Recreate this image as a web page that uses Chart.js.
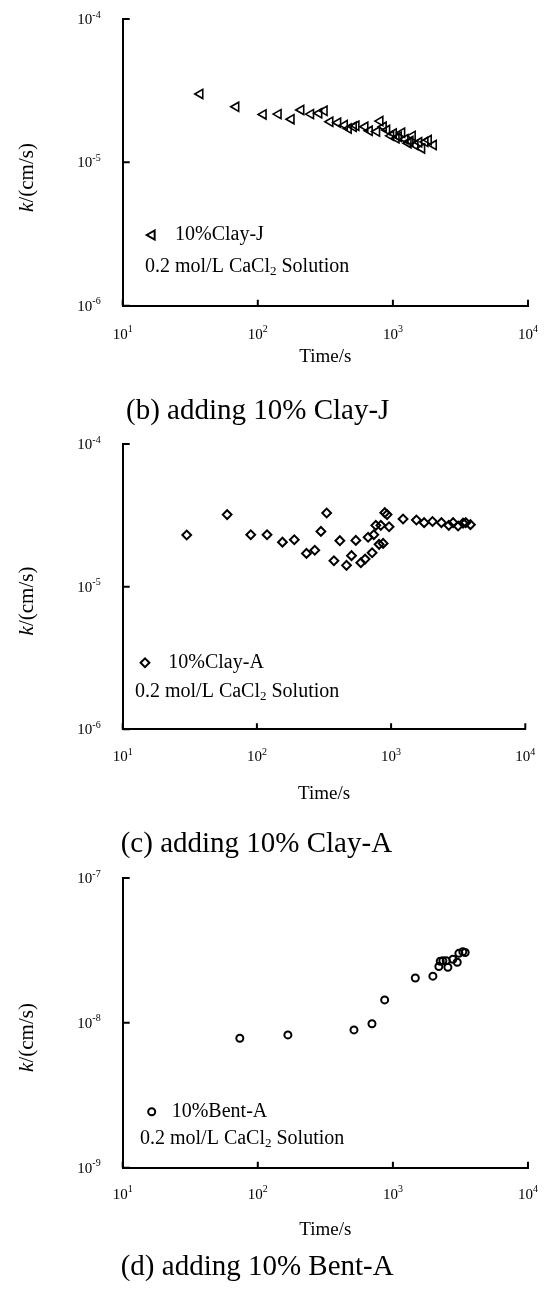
<!DOCTYPE html>
<html>
<head>
<meta charset="utf-8">
<script src="https://cdn.jsdelivr.net/npm/chart.js"></script>
<style>
  body { margin: 0; background: #fff; }
  #wrap { position: relative; width: 549px; height: 1303px; }
  canvas { position: absolute; left: 0; }
</style>
</head>
<body>
<div id="wrap">
  <canvas id="chartB" width="549" height="430" style="top:0px"></canvas>
  <canvas id="chartC" width="549" height="445" style="top:425px"></canvas>
  <canvas id="chartD" width="549" height="448" style="top:855px"></canvas>
</div>
<script>
// (b) 10% Clay-J
const clayJTime = [37.4, 69, 110, 142, 177, 209, 247, 284, 311, 343, 392, 439, 469, 511, 535, 623, 671, 761, 805, 852,
  903, 967, 1012, 1060, 1102, 1167, 1234, 1300, 1344, 1397, 1463, 1560, 1640, 1734, 1836, 2000];
const clayJK = [3.0e-5, 2.44e-5, 2.16e-5, 2.17e-5, 2.0e-5, 2.32e-5, 2.17e-5, 2.2e-5, 2.29e-5, 1.92e-5, 1.89e-5, 1.82e-5,
  1.72e-5, 1.77e-5, 1.80e-5, 1.77e-5, 1.66e-5, 1.64e-5, 1.94e-5, 1.77e-5, 1.68e-5, 1.53e-5, 1.59e-5, 1.47e-5, 1.51e-5,
  1.61e-5, 1.45e-5, 1.36e-5, 1.41e-5, 1.53e-5, 1.32e-5, 1.38e-5, 1.25e-5, 1.39e-5, 1.43e-5, 1.32e-5];

// (c) 10% Clay-A
const clayATime = [30, 60, 90, 119, 155, 190, 234, 270, 300, 331, 375, 415, 465, 507, 546, 595, 640, 674, 722, 743,
  769, 814, 838, 872, 897, 933, 966, 1228, 1544, 1762, 2034, 2372, 2690, 2897, 3157, 3438, 3600, 3900];
const clayAK = [2.30e-5, 3.20e-5, 2.31e-5, 2.31e-5, 2.05e-5, 2.13e-5, 1.71e-5, 1.80e-5, 2.44e-5, 3.28e-5, 1.52e-5, 2.10e-5,
  1.41e-5, 1.65e-5, 2.11e-5, 1.47e-5, 1.56e-5, 2.22e-5, 1.73e-5, 2.31e-5, 2.69e-5, 1.98e-5, 2.69e-5, 2.01e-5, 3.30e-5,
  3.20e-5, 2.63e-5, 2.98e-5, 2.93e-5, 2.81e-5, 2.86e-5, 2.81e-5, 2.69e-5, 2.81e-5, 2.66e-5, 2.79e-5, 2.81e-5, 2.72e-5];

// (d) 10% Bent-A
const bentATime = [73.6, 167, 515, 700, 869, 1465, 1977, 2189, 2241, 2343, 2482, 2552, 2780, 2995, 3079, 3292, 3428];
const bentAK = [7.83e-9, 8.26e-9, 8.94e-9, 9.86e-9, 1.44e-8, 2.04e-8, 2.10e-8, 2.45e-8, 2.66e-8, 2.68e-8, 2.68e-8,
  2.42e-8, 2.75e-8, 2.62e-8, 3.02e-8, 3.10e-8, 3.06e-8];

const timeTicks = [10, 100, 1000, 10000];
const kTicksClay = [1e-6, 1e-5, 1e-4];
const kTicksBent = [1e-9, 1e-8, 1e-7];

const serif = '"Liberation Serif", "Times New Roman", serif';

function toPoints(xs, ys) {
  return xs.map((x, i) => ({ x: x, y: ys[i] }));
}

// draws "10" with a raised exponent; align: 'center' or 'right'
function powText(ctx, v, x, yc, align) {
  const e = String(Math.round(Math.log10(v)));
  ctx.font = '15px ' + serif;
  const wb = ctx.measureText('10').width;
  ctx.font = '10px ' + serif;
  const we = ctx.measureText(e).width;
  let x0 = align === 'right' ? x - wb - we : x - (wb + we) / 2;
  ctx.textAlign = 'left';
  ctx.textBaseline = 'alphabetic';
  ctx.font = '15px ' + serif;
  ctx.fillText('10', x0, yc + 5);
  ctx.font = '10px ' + serif;
  ctx.fillText(e, x0 + wb, yc - 1.5);
}

// inner ticks, tick labels, y title, legend, annotation, caption
const extras = {
  id: 'extras',
  afterDraw(chart, args, o) {
    const ctx = chart.ctx;
    const xs = chart.scales.x, ys = chart.scales.y;
    const area = chart.chartArea;
    ctx.save();
    ctx.strokeStyle = '#000';
    ctx.lineWidth = 2;
    ctx.beginPath();
    xs.ticks.forEach(t => {
      const px = xs.getPixelForValue(t.value);
      ctx.moveTo(px, area.bottom);
      ctx.lineTo(px, area.bottom - 6);
    });
    ys.ticks.forEach(t => {
      const py = ys.getPixelForValue(t.value);
      ctx.moveTo(area.left, py);
      ctx.lineTo(area.left + 7, py);
    });
    ctx.stroke();

    ctx.fillStyle = '#000';
    xs.ticks.forEach(t => powText(ctx, t.value, xs.getPixelForValue(t.value), area.bottom + o.xLabelGap, 'center'));
    ys.ticks.forEach(t => powText(ctx, t.value, area.left - 22, ys.getPixelForValue(t.value), 'right'));

    // y axis title
    ctx.save();
    ctx.translate(o.yTitle[0], o.yTitle[1]);
    ctx.rotate(-Math.PI / 2);
    ctx.textBaseline = 'middle';
    ctx.font = 'italic 21px ' + serif;
    const wk = ctx.measureText('k').width;
    ctx.font = '21px ' + serif;
    const wr = ctx.measureText('/(cm/s)').width;
    const x0 = -(wk + wr) / 2;
    ctx.font = 'italic 21px ' + serif;
    ctx.textAlign = 'left';
    ctx.fillText('k', x0, 0);
    ctx.font = '21px ' + serif;
    ctx.fillText('/(cm/s)', x0 + wk, 0);
    ctx.restore();

    // legend
    const ds = chart.data.datasets[0];
    ctx.save();
    ctx.strokeStyle = '#000';
    ctx.fillStyle = 'rgba(0,0,0,0)';
    Chart.helpers.drawPoint(ctx, {
      pointStyle: ds.pointStyle, radius: ds.pointRadius, rotation: ds.pointRotation || 0,
      borderWidth: ds.borderWidth
    }, o.legend[0], o.legend[1]);
    ctx.restore();
    ctx.textBaseline = 'middle';
    ctx.textAlign = 'left';
    ctx.font = '20px ' + serif;
    ctx.fillText(ds.label, o.legend[2], o.legend[1]);

    // solution note with subscript
    let x = o.note[0];
    const y = o.note[1];
    const parts = ['0.2 mol/L CaCl', '2', ' Solution'];
    ctx.font = '20px ' + serif;
    ctx.fillText(parts[0], x, y);
    x += ctx.measureText(parts[0]).width;
    ctx.font = '13px ' + serif;
    ctx.fillText(parts[1], x, y + 5);
    x += ctx.measureText(parts[1]).width;
    ctx.font = '20px ' + serif;
    ctx.fillText(parts[2], x, y);

    // caption
    ctx.font = '29px ' + serif;
    ctx.fillText(o.caption[0], o.caption[1], o.caption[2]);
    ctx.restore();
  }
};

function makeChart(id, cfg) {
  return new Chart(document.getElementById(id), {
    type: 'scatter',
    data: {
      datasets: [{
        label: cfg.label,
        data: cfg.data,
        pointStyle: cfg.pointStyle,
        pointRadius: cfg.radius,
        pointHoverRadius: cfg.radius,
        pointRotation: cfg.rotation || 0,
        borderWidth: cfg.borderWidth,
        borderColor: '#000',
        backgroundColor: 'rgba(0,0,0,0)'
      }]
    },
    options: {
      responsive: false,
      animation: false,
      events: [],
      layout: { padding: cfg.padding },
      plugins: {
        legend: { display: false },
        tooltip: { enabled: false },
        extras: cfg.extras
      },
      scales: {
        x: {
          type: 'logarithmic',
          min: 10,
          max: 10000,
          afterBuildTicks: s => { s.ticks = timeTicks.map(v => ({ value: v })); },
          afterFit: s => { s.height = cfg.xHeight; },
          grid: { display: false, drawTicks: false },
          border: { display: true, color: '#000', width: 2 },
          ticks: { display: false },
          title: {
            display: true,
            text: 'Time/s',
            color: '#000',
            font: { family: serif, size: 19 },
            padding: 0
          }
        },
        y: {
          type: 'logarithmic',
          min: cfg.yTicks[0],
          max: cfg.yTicks[2],
          afterBuildTicks: s => { s.ticks = cfg.yTicks.map(v => ({ value: v })); },
          afterFit: s => { s.width = 100; },
          grid: { display: false, drawTicks: false },
          border: { display: true, color: '#000', width: 2 },
          ticks: { display: false }
        }
      }
    },
    plugins: [extras]
  });
}

makeChart('chartB', {
  label: '10%Clay-J',
  data: toPoints(clayJTime, clayJK),
  pointStyle: 'triangle', radius: 5.3, rotation: -90, borderWidth: 1.6,
  yTicks: kTicksClay,
  padding: { left: 22.7, right: 21, top: 19, bottom: 61.3 },
  xHeight: 63,
  extras: { xLabelGap: 28, yTitle: [27, 177.5], legend: [152, 235, 175], note: [145, 266.7], caption: ['(b) adding 10% Clay-J', 126, 411] }
});

makeChart('chartC', {
  label: '10%Clay-A',
  data: toPoints(clayATime, clayAK),
  pointStyle: 'rectRot', radius: 4.4, borderWidth: 2,
  yTicks: kTicksClay,
  padding: { left: 22.7, right: 23.7, top: 19, bottom: 64.7 },
  xHeight: 76,
  extras: { xLabelGap: 27, yTitle: [27, 176], legend: [145, 237.7, 168.3], note: [135, 266.7], caption: ['(c) adding 10% Clay-A', 120.7, 419] }
});

makeChart('chartD', {
  label: '10%Bent-A',
  data: toPoints(bentATime, bentAK),
  pointStyle: 'circle', radius: 3.5, borderWidth: 2,
  yTicks: kTicksBent,
  padding: { left: 22.7, right: 21, top: 23, bottom: 61.3 },
  xHeight: 74,
  extras: { xLabelGap: 26, yTitle: [27, 182.5], legend: [151.7, 256.7, 171.7], note: [140, 283.3], caption: ['(d) adding 10% Bent-A', 120.7, 412] }
});
</script>
</body>
</html>
